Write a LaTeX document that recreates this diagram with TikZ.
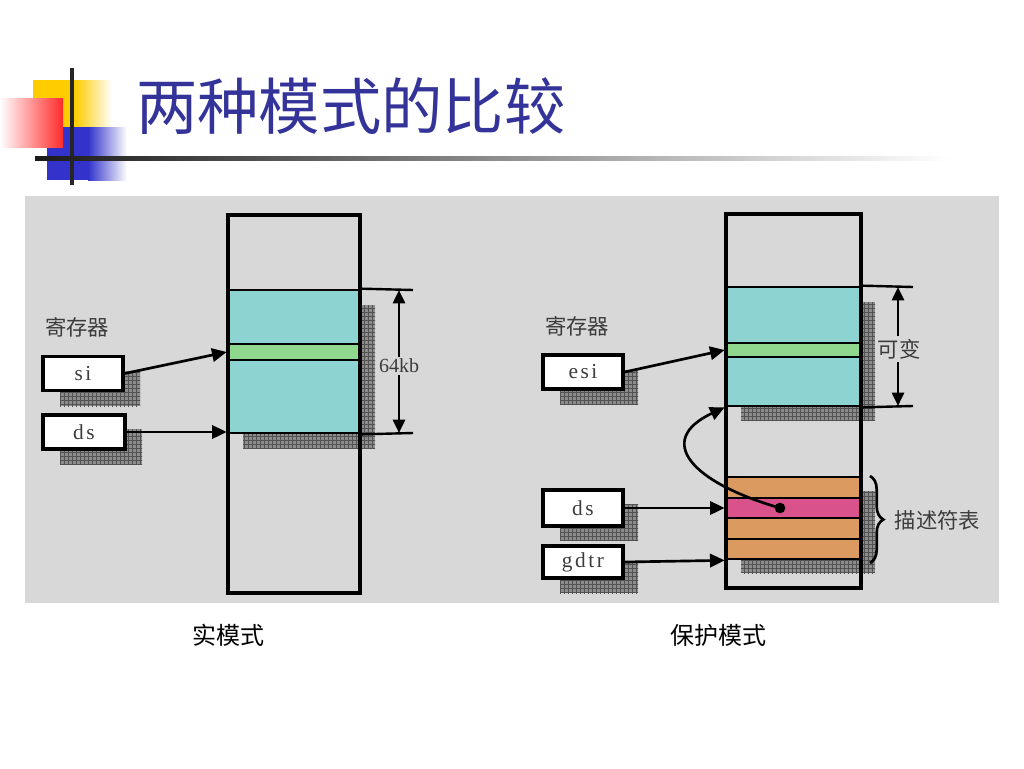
\documentclass[tikz,border=0pt]{standalone}
\usepackage{fontspec}
\newfontfamily\cjk{Noto Sans CJK SC}
\newfontfamily\regfont[LetterSpace=12]{Liberation Serif}
\usetikzlibrary{arrows.meta,fit,patterns,decorations.pathreplacing}
\definecolor{bgpanel}{HTML}{D8D8D8}
\definecolor{cyanmem}{HTML}{8DD3D2}
\definecolor{greenmem}{HTML}{90D88E}
\definecolor{orangemem}{HTML}{DB9A60}
\definecolor{pinkmem}{HTML}{D9528C}
\definecolor{titleblue}{HTML}{333399}
\definecolor{txtgray}{HTML}{3C3C3C}
\definecolor{logoyellow}{HTML}{FFCC00}
\definecolor{logoblue}{HTML}{3333CC}
\definecolor{logored}{HTML}{FF2A2A}
\tikzset{
  region/.style={draw=black, line width=2pt, inner sep=0pt},
  colbox/.style={draw=black, line width=3pt, inner sep=0pt},
  regbox/.style={draw=black, line width=2.4pt, fill=white, inner sep=0pt, text=txtgray, font=\regfont\fontsize{16}{18}\selectfont},
  shadowfill/.style={fill=black!45, postaction={pattern=grid, pattern color=black!68}},
  arr/.style={line width=2pt, -{Triangle[length=11pt,width=10pt]}},
  darr/.style={line width=2pt, {Triangle[length=10pt,width=9pt]}-{Triangle[length=10pt,width=9pt]}},
  extline/.style={line width=1.8pt},
  cjktext/.style={font=\cjk\fontsize{16}{18}\selectfont, text=txtgray},
  caption/.style={font=\cjk\fontsize{18}{20}\selectfont, text=black},
}
\begin{document}
\begin{tikzpicture}[x=0.75pt,y=-0.75pt]
\useasboundingbox (0,0) rectangle (1024,768);
\fill[white] (0,0) rectangle (1024,768);

% ---- logo ----
\fill[logoyellow] (33,80) rectangle (75,128);
\shade[left color=logoyellow, right color=white] (75,80) rectangle (112,128);
\fill[logoblue] (47,127) rectangle (88,180);
\shade[left color=logoblue, right color=white] (88,127) rectangle (127,180);
\shade[left color=white, right color=logored] (0,98) rectangle (63,147);
\draw[line width=3pt, black!85] (72,68) -- (72,185);
\shade[left color=black!90, right color=white] (35,156) rectangle (950,160);

% ---- title ----
\node[anchor=west, inner sep=0pt, text=titleblue, font=\cjk\fontsize{46}{50}\selectfont] (title) at (136,106) {两种模式的比较};

% ---- panel ----
\fill[bgpanel] (25,196) rectangle (999,603);

% ================= left: real mode =================
\fill[shadowfill] (243,305) rectangle (375,448);
\fill[shadowfill] (60,371) rectangle (140,406);
\fill[shadowfill] (60,429) rectangle (142,464);

\node[region, fill=cyanmem, fit={(228,290) (360,433)}] (cyanL) {};
\node[region, fill=greenmem, fit={(228,344) (360,360)}] (greenL) {};
\node[colbox, fit={(228,215) (360,593)}] (colL) {};

\coordinate (topL) at (413,290);
\coordinate (botL) at (413,433);
\draw[extline] (cyanL.north east) -- (topL);
\draw[extline] (cyanL.south east) -- (botL);
\coordinate (dTopL) at (399,290);
\coordinate (dBotL) at (399,433);
\draw[darr] (dTopL) -- (dBotL);
\node[fill=bgpanel, inner sep=1.5pt, text=txtgray, font=\fontspec{Liberation Serif}\fontsize{15}{17}\selectfont] (kb) at (399,366) {64kb};

\node[cjktext] (regL) at (77,327) {寄存器};
\node[regbox, minimum width=60pt, minimum height=26pt] (siL) at (83,373.5) {si};
\node[regbox, minimum width=61.5pt, minimum height=25.5pt] (dsL) at (84,432) {ds};

\draw[arr] (siL.east) -- (greenL.west);
\draw[arr] (dsL.east) -- (dsL.east -| cyanL.west);

\node[caption] (capL) at (228,635) {实模式};

% ================= right: protected mode =================
\fill[shadowfill] (741,302) rectangle (875,420);
\fill[shadowfill] (741,491) rectangle (875,573);
\fill[shadowfill] (560,370) rectangle (638,404);
\fill[shadowfill] (560,504) rectangle (638,540);
\fill[shadowfill] (560,561) rectangle (638,593);

\node[region, fill=cyanmem, fit={(726,287) (861,406)}] (cyanR) {};
\node[region, fill=greenmem, fit={(726,343) (861,357)}] (greenR) {};
\node[region, fill=orangemem, fit={(726,477) (861,498)}] (row1) {};
\node[region, fill=pinkmem, fit={(726,498) (861,518)}] (row2) {};
\node[region, fill=orangemem, fit={(726,518) (861,539)}] (row3) {};
\node[region, fill=orangemem, fit={(726,539) (861,559)}] (row4) {};
\node[colbox, fit={(726,214) (861,588)}] (colR) {};

\coordinate (topR) at (913,287);
\coordinate (botR) at (913,406);
\draw[extline] (cyanR.north east) -- (topR);
\draw[extline] (cyanR.south east) -- (botR);
\coordinate (dTopR) at (898,287);
\coordinate (dBotR) at (898,406);
\draw[darr] (dTopR) -- (dBotR);
\node[fill=bgpanel, inner sep=2pt, cjktext] (var) at (899,349) {可变};

\coordinate (brTop) at (870,476);
\coordinate (brBot) at (870,563);
\draw[line width=2pt, decorate, decoration={brace, amplitude=10pt}] (brTop) -- (brBot);
\node[cjktext, anchor=west] (desc) at (890,520) {描述符表};

\node[cjktext] (regR) at (577,326) {寄存器};
\node[regbox, minimum width=60pt, minimum height=25.5pt] (esiR) at (583,372) {esi};
\node[regbox, minimum width=60pt, minimum height=27pt] (dsR) at (583,508) {ds};
\node[regbox, minimum width=60pt, minimum height=24pt] (gdtrR) at (583,562) {gdtr};

\draw[arr] (esiR.east) -- (greenR.west);
\draw[arr] (dsR.east) -- (row2.west);
\draw[arr] (gdtrR.east) -- (row4.south west);

\node[circle, fill=black, inner sep=0pt, minimum size=8pt] (dot) at (780,508) {};
\draw[arr] (dot.center) .. controls (690,482) and (655,440) .. (cyanR.south west);

\node[caption] (capR) at (718,635) {保护模式};
\end{tikzpicture}
\end{document}
